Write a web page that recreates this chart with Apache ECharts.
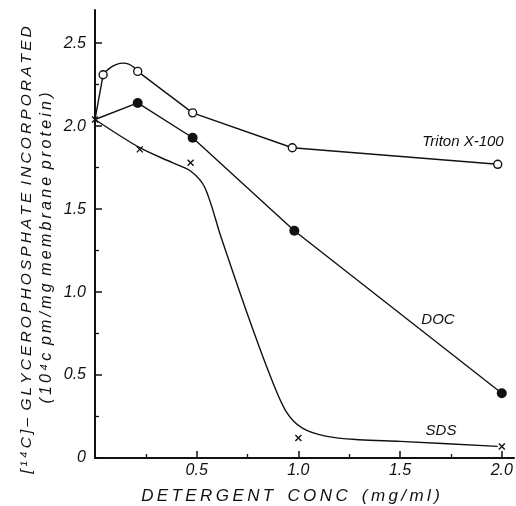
<!DOCTYPE html>
<html><head><meta charset="utf-8">
<script src="https://cdn.jsdelivr.net/npm/echarts@6/dist/echarts.min.js"></script>
<style>html,body{margin:0;padding:0;background:#fff}#c{width:516px;height:506px}</style>
</head><body><div id="c"></div>
<script>
// ---- data ----
const originX = 0, originY = 2.04;                 // common starting point (0 mg/ml)
const tritonX = [0.04, 0.21, 0.48, 0.97, 1.98];
const tritonY = [2.31, 2.33, 2.08, 1.87, 1.77];
const tritonArcX = [0.04, 0.14, 0.21];              // hand-drawn hump between first two points
const tritonArcY = [2.31, 2.38, 2.33];
const docX = [0.21, 0.48, 0.98, 2.0];
const docY = [2.14, 1.93, 1.37, 0.39];
const sdsX = [0.22, 0.47, 1.0, 2.0];
const sdsY = [1.86, 1.78, 0.12, 0.07];
const sdsCurveX = [0, 0.22, 0.38, 0.47, 0.54, 0.62, 0.74, 0.86, 0.94, 1.02, 1.14, 1.30, 1.50, 1.98];
const sdsCurveY = [2.04, 1.87, 1.78, 1.73, 1.63, 1.33, 0.90, 0.50, 0.28, 0.18, 0.13, 0.11, 0.10, 0.07];
const xMajor = [0, 0.5, 1.0, 1.5, 2.0];
const xLabels = [0.5, 1.0, 1.5, 2.0];
const xMinor = [0.25, 0.75, 1.25, 1.75];
const yMajor = [0, 0.5, 1.0, 1.5, 2.0, 2.5];
const yMinor = [0.25, 0.75, 1.25, 1.75, 2.25];
const seriesNames = ['Triton X-100', 'DOC', 'SDS'];
const xTitle = 'DETERGENT CONC (mg/ml)';
const yTitle1 = '[\u00B9\u2074C]\u2013 GLYCEROPHOSPHATE INCORPORATED';
const yTitle2 = '(10\u2074c pm/mg membrane protein)';

const zip = (a, b) => a.map((v, i) => [v, b[i]]);
const spaced = (s, g, wg) => s.split(' ').map(w => w.split('').join(g)).join(wg);

const FONT = 'Liberation Sans';
const ink = '#111';
const crossPath = 'path://M0,0L10,10M10,0L0,10';

const chart = echarts.init(document.getElementById('c'), null, {renderer: 'canvas'});
const xBase = {type: 'value', min: 0, max: 2.06, gridIndex: 0, position: 'bottom', splitLine: {show: false}};
const yBase = {type: 'value', min: 0, max: 2.7, gridIndex: 0, position: 'left', splitLine: {show: false}};

chart.setOption({
  backgroundColor: '#fff',
  animation: false,
  grid: {left: 95, right: 2, top: 10, bottom: 48, containLabel: false, outerBoundsMode: 'none'},
  xAxis: [
    Object.assign({}, xBase, {
      axisLine: {lineStyle: {color: ink, width: 2}},
      axisTick: {inside: true, length: 7, lineStyle: {color: ink, width: 1.5}, customValues: xMajor},
      axisLabel: {customValues: xLabels, margin: 5, color: ink, fontFamily: FONT, fontStyle: 'italic', fontSize: 16,
        formatter: v => v.toFixed(1)},
      name: spaced(xTitle, '\u2009', '   '), nameLocation: 'middle', nameGap: 30,
      nameTextStyle: {color: ink, fontFamily: FONT, fontStyle: 'italic', fontSize: 17, padding: [0, 28, 0, 0]}
    }),
    Object.assign({}, xBase, {
      axisLine: {show: false},
      axisTick: {inside: true, length: 4, lineStyle: {color: ink, width: 1.3}, customValues: xMinor},
      axisLabel: {show: false}
    })
  ],
  yAxis: [
    Object.assign({}, yBase, {
      axisLine: {lineStyle: {color: ink, width: 2}},
      axisTick: {inside: true, length: 7, lineStyle: {color: ink, width: 1.5}, customValues: yMajor},
      axisLabel: {customValues: yMajor, margin: 9, color: ink, fontFamily: FONT, fontStyle: 'italic', fontSize: 16,
        formatter: v => v === 0 ? '0' : v.toFixed(1)}
    }),
    Object.assign({}, yBase, {
      axisLine: {show: false},
      axisTick: {inside: true, length: 4, lineStyle: {color: ink, width: 1.3}, customValues: yMinor},
      axisLabel: {show: false}
    })
  ],
  series: [
    {type: 'line', name: seriesNames[0], data: [[originX, originY], [tritonX[0], tritonY[0]]],
      showSymbol: false, lineStyle: {color: ink, width: 1.4}},
    {type: 'line', name: seriesNames[0], data: zip(tritonArcX, tritonArcY), smooth: 0.6,
      showSymbol: false, lineStyle: {color: ink, width: 1.4}},
    {type: 'line', name: seriesNames[0], data: zip(tritonX.slice(1), tritonY.slice(1)),
      showSymbol: false, lineStyle: {color: ink, width: 1.4}},
    {type: 'line', name: seriesNames[1], data: [[originX, originY]].concat(zip(docX, docY)),
      showSymbol: false, lineStyle: {color: ink, width: 1.4}},
    {type: 'line', name: seriesNames[2], data: zip(sdsCurveX, sdsCurveY), smooth: 0.3,
      showSymbol: false, lineStyle: {color: ink, width: 1.4}},
    {type: 'scatter', name: seriesNames[0], data: zip(tritonX, tritonY), symbol: 'circle', symbolSize: 8, z: 5,
      itemStyle: {color: '#fff', borderColor: ink, borderWidth: 1.4, opacity: 1}},
    {type: 'scatter', name: seriesNames[1], data: zip(docX, docY), symbol: 'circle', symbolSize: 10, z: 5,
      itemStyle: {color: ink, opacity: 1}},
    {type: 'scatter', name: seriesNames[2], data: [[originX, originY]].concat(zip(sdsX, sdsY)), symbol: crossPath,
      symbolSize: 6, z: 5, itemStyle: {color: 'rgba(0,0,0,0)', borderColor: ink, borderWidth: 1.4, opacity: 1}}
  ],
  graphic: [
    {type: 'text', x: 463, y: 142, style: {text: seriesNames[0], fill: ink, font: 'italic 15px "Liberation Sans"', align: 'center', verticalAlign: 'middle'}},
    {type: 'text', x: 438, y: 320, style: {text: seriesNames[1], fill: ink, font: 'italic 15px "Liberation Sans"', align: 'center', verticalAlign: 'middle'}},
    {type: 'text', x: 441, y: 431, style: {text: seriesNames[2], fill: ink, font: 'italic 15px "Liberation Sans"', align: 'center', verticalAlign: 'middle'}},
    {type: 'text', x: 27, y: 250, rotation: Math.PI / 2,
      style: {text: spaced(yTitle1, '\u2009', ' \u2009'), fill: ink, font: 'italic 15.5px "Liberation Sans"', align: 'center', verticalAlign: 'middle'}},
    {type: 'text', x: 47, y: 248, rotation: Math.PI / 2,
      style: {text: spaced(yTitle2, '\u2009', ' \u2009'), fill: ink, font: 'italic 16px "Liberation Sans"', align: 'center', verticalAlign: 'middle'}}
  ]
});
</script>
</body></html>
